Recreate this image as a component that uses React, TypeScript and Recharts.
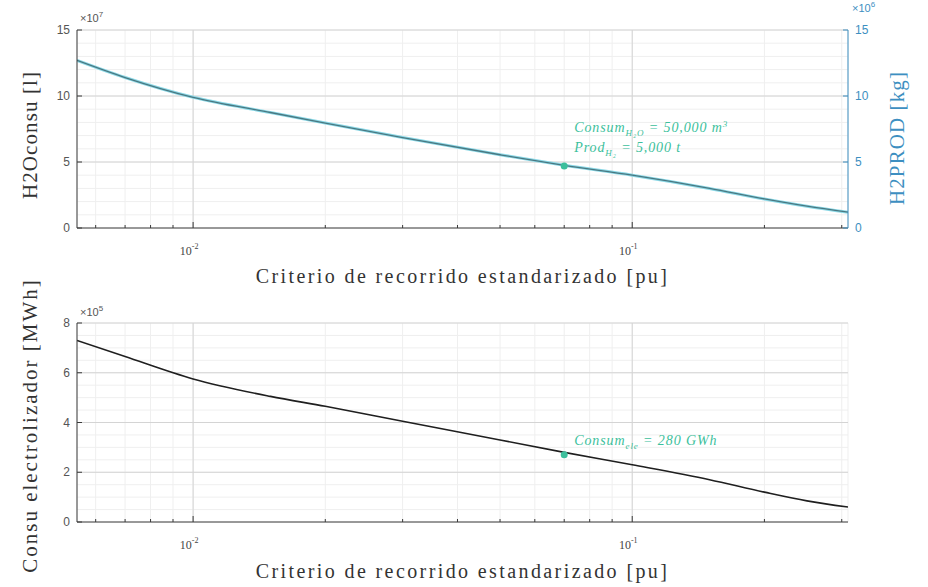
import React from "react";
import {
  LineChart,
  Line,
  XAxis,
  YAxis,
  CartesianGrid,
  ReferenceLine,
  ReferenceDot,
} from "recharts";

// Criterio de recorrido estandarizado [pu]
const xCriterio = [0.00544, 0.007, 0.01, 0.015, 0.02, 0.03, 0.05, 0.07, 0.1, 0.15, 0.2, 0.25, 0.31];
// H2O consumo [l] in units of 1e7
const h2oConsumo = [12.7, 11.4, 9.9, 8.75, 7.95, 6.85, 5.55, 4.75, 4.0, 3.0, 2.2, 1.65, 1.2];
// H2 producido [kg] in units of 1e6
const h2Prod = [12.7, 11.4, 9.9, 8.75, 7.95, 6.85, 5.55, 4.75, 4.0, 3.0, 2.2, 1.65, 1.2];
// Consumo electrolizador [MWh] in units of 1e5
const consuElec = [7.3, 6.65, 5.75, 5.05, 4.65, 4.05, 3.3, 2.8, 2.3, 1.7, 1.2, 0.85, 0.6];

const xDomain = [0.00544, 0.31];
const xTicksAll = [0.006, 0.007, 0.008, 0.009, 0.01, 0.02, 0.03, 0.04, 0.05, 0.06, 0.07, 0.08, 0.09, 0.1, 0.2, 0.3];
const xMajor = [0.01, 0.1];
const xMajorExp = ["-2", "-1"];

const topYTicksAll = [0, 1, 2, 3, 4, 5, 6, 7, 8, 9, 10, 11, 12, 13, 14, 15];
const topYMajor = [0, 5, 10, 15];
const botYTicksAll = [0, 0.5, 1, 1.5, 2, 2.5, 3, 3.5, 4, 4.5, 5, 5.5, 6, 6.5, 7, 7.5, 8];
const botYMajor = [0, 2, 4, 6, 8];

const markX = 0.07;
const markTopY = 4.7;
const markBotY = 2.7;

const topData = xCriterio.map((x, i) => ({ x, h2o: h2oConsumo[i], h2: h2Prod[i] }));
const botData = xCriterio.map((x, i) => ({ x, elec: consuElec[i] }));

const SERIF = "'Liberation Serif', 'DejaVu Serif', serif";
const SANS = "'Liberation Sans', Arial, sans-serif";
const BLUE = "#3d8fc1";
const GREEN = "#3cbf9c";
const AXIS = "#3a3a3a";

const xLabelStyle = { fontFamily: SERIF, fontSize: 20, letterSpacing: 2.4, fill: "#333" };

const makeYLabel = (text: string, color: string, side: "left" | "right", fontSize: number, ls: number, shift: number) =>
  (props: any) => {
    const vb = props.viewBox || {};
    const cx = side === "left" ? vb.x + 30 : vb.x + vb.width - 31;
    const cy = vb.y + vb.height / 2 + shift;
    return (
      <text
        x={cx}
        y={cy}
        transform={`rotate(-90 ${cx} ${cy})`}
        textAnchor="middle"
        dominantBaseline="central"
        fontFamily={SERIF}
        fontSize={fontSize}
        letterSpacing={ls}
        fill={color}
      >
        {text}
      </text>
    );
  };

const XTick = (props: any) => {
  const { x, y, payload } = props;
  const v = payload.value;
  const idx = xMajor.indexOf(v);
  const major = idx >= 0;
  return (
    <g>
      <line x1={x} x2={x} y1={y} y2={y - (major ? 6 : 3)} stroke={AXIS} strokeWidth={1} />
      {major && (
        <text x={x - 4} y={y + 27} textAnchor="middle" fontSize={12} fontFamily={SERIF} fill="#444">
          10
          <tspan dy={-6} fontSize={8}>{xMajorExp[idx]}</tspan>
        </text>
      )}
    </g>
  );
};

const makeLeftTick = (majors: number[]) => (props: any) => {
  const { x, y, payload } = props;
  const v = payload.value;
  if (majors.indexOf(v) < 0) return <g />;
  return (
    <g>
      <line x1={x} x2={x + 5} y1={y} y2={y} stroke={AXIS} />
      <text x={x - 7} y={y + 4} textAnchor="end" fontSize={12} fontFamily={SANS} fill="#555">
        {v}
      </text>
    </g>
  );
};

const RightTick = (props: any) => {
  const { x, y, payload } = props;
  const v = payload.value;
  if (topYMajor.indexOf(v) < 0) return <g />;
  return (
    <g>
      <line x1={x} x2={x - 5} y1={y} y2={y} stroke={BLUE} />
      <text x={x + 7} y={y + 4} textAnchor="start" fontSize={12} fontFamily={SANS} fill={BLUE}>
        {v}
      </text>
    </g>
  );
};

const annStyle = { fontSize: 14, letterSpacing: 0.9, fontStyle: "italic", fontFamily: SERIF, fill: GREEN };

const TopMark = (p: any) => (
  <g>
    <circle cx={p.cx} cy={p.cy} r={3.5} fill={GREEN} />
    <text x={p.cx + 10} y={p.cy - 34} style={annStyle as any}>
      Consum
      <tspan dy={4} fontSize={9}>H₂O</tspan>
      <tspan dy={-4}> = 50,000 m</tspan>
      <tspan dy={-5} fontSize={9}>3</tspan>
    </text>
    <text x={p.cx + 10} y={p.cy - 14} style={annStyle as any}>
      Prod
      <tspan dy={4} fontSize={9}>H₂</tspan>
      <tspan dy={-4}> = 5,000 t</tspan>
    </text>
  </g>
);

const BotMark = (p: any) => (
  <g>
    <circle cx={p.cx} cy={p.cy} r={3.5} fill={GREEN} />
    <text x={p.cx + 10} y={p.cy - 10} style={annStyle as any}>
      Consum
      <tspan dy={4} fontSize={9}>ele</tspan>
      <tspan dy={-4}> = 280 GWh</tspan>
    </text>
  </g>
);

const ExpLabel = ({ x, y, exp, color }: any) => (
  <text x={x} y={y} fontSize={11} fontFamily={SANS} fill={color}>
    ×10
    <tspan dy={-5} fontSize={8}>{exp}</tspan>
  </text>
);

export default function App() {
  return (
    <div style={{ position: "fixed", left: 0, top: 0, width: 928, height: 587, background: "#fff" }}>
      <div style={{ position: "absolute", left: 0, top: 0 }}>
        <LineChart width={928} height={295} data={topData} margin={{ top: 30, right: 0, bottom: 0, left: 0 }}>
          <CartesianGrid yAxisId="left" stroke="#efefef" strokeWidth={1} />
          <XAxis
            dataKey="x"
            type="number"
            scale="log"
            domain={xDomain}
            allowDataOverflow
            ticks={xTicksAll}
            interval={0}
            height={67}
            tickSize={0}
            tickMargin={0}
            tick={<XTick />}
            stroke={AXIS}
            label={{
              value: "Criterio de recorrido estandarizado [pu]",
              position: "insideTop",
              offset: 41,
              style: xLabelStyle,
            }}
          />
          <YAxis
            yAxisId="left"
            type="number"
            domain={[0, 15]}
            ticks={topYTicksAll}
            interval={0}
            width={77}
            tickSize={0}
            tickMargin={0}
            tick={makeLeftTick(topYMajor)}
            stroke={AXIS}
            label={{ content: makeYLabel("H2Oconsu [l]", "#333", "left", 21, 1.1, 6) }}
          />
          <YAxis
            yAxisId="right"
            orientation="right"
            type="number"
            domain={[0, 15]}
            ticks={topYTicksAll}
            interval={0}
            width={80}
            tickSize={0}
            tickMargin={0}
            tick={<RightTick />}
            stroke={BLUE}
            label={{ content: makeYLabel("H2PROD [kg]", BLUE, "right", 21, 1.1, 9) }}
          />
          {topYMajor.slice(1).map((v) => (
            <ReferenceLine key={"ty" + v} yAxisId="left" y={v} stroke="#d4d4d4" />
          ))}
          {xMajor.map((v) => (
            <ReferenceLine key={"tx" + v} yAxisId="left" x={v} stroke="#d4d4d4" />
          ))}
          <Line
            yAxisId="right"
            dataKey="h2"
            type="monotone"
            stroke="#8ad8e6"
            strokeWidth={3}
            dot={false}
            isAnimationActive={false}
          />
          <Line
            yAxisId="left"
            dataKey="h2o"
            type="monotone"
            stroke="#4a7882"
            strokeWidth={1.3}
            dot={false}
            isAnimationActive={false}
          />
          <ReferenceDot yAxisId="left" x={markX} y={markTopY} r={3.5} shape={TopMark} />
        </LineChart>
      </div>
      <div style={{ position: "absolute", left: 0, top: 265 }}>
        <LineChart width={928} height={322} data={botData} margin={{ top: 58, right: 80, bottom: 0, left: 0 }}>
          <CartesianGrid stroke="#efefef" strokeWidth={1} />
          <XAxis
            dataKey="x"
            type="number"
            scale="log"
            domain={xDomain}
            allowDataOverflow
            ticks={xTicksAll}
            interval={0}
            height={65}
            tickSize={0}
            tickMargin={0}
            tick={<XTick />}
            stroke={AXIS}
            label={{
              value: "Criterio de recorrido estandarizado [pu]",
              position: "insideTop",
              offset: 42,
              style: xLabelStyle,
            }}
          />
          <YAxis
            type="number"
            domain={[0, 8]}
            ticks={botYTicksAll}
            interval={0}
            width={77}
            tickSize={0}
            tickMargin={0}
            tick={makeLeftTick(botYMajor)}
            stroke={AXIS}
            label={{ content: makeYLabel("Consu electrolizador [MWh]", "#333", "left", 21, 2.0, 3) }}
          />
          {botYMajor.slice(1).map((v) => (
            <ReferenceLine key={"by" + v} y={v} stroke="#d4d4d4" />
          ))}
          {xMajor.map((v) => (
            <ReferenceLine key={"bx" + v} x={v} stroke="#d4d4d4" />
          ))}
          <Line
            dataKey="elec"
            type="monotone"
            stroke="#1f1f1f"
            strokeWidth={1.6}
            dot={false}
            isAnimationActive={false}
          />
          <ReferenceDot x={markX} y={markBotY} r={3.5} shape={BotMark} />
        </LineChart>
      </div>
      <svg width={928} height={587} style={{ position: "absolute", left: 0, top: 0, pointerEvents: "none" }}>
        <ExpLabel x={80} y={22} exp="7" color="#555" />
        <ExpLabel x={852} y={12} exp="6" color={BLUE} />
        <ExpLabel x={80} y={316} exp="5" color="#555" />
      </svg>
    </div>
  );
}
